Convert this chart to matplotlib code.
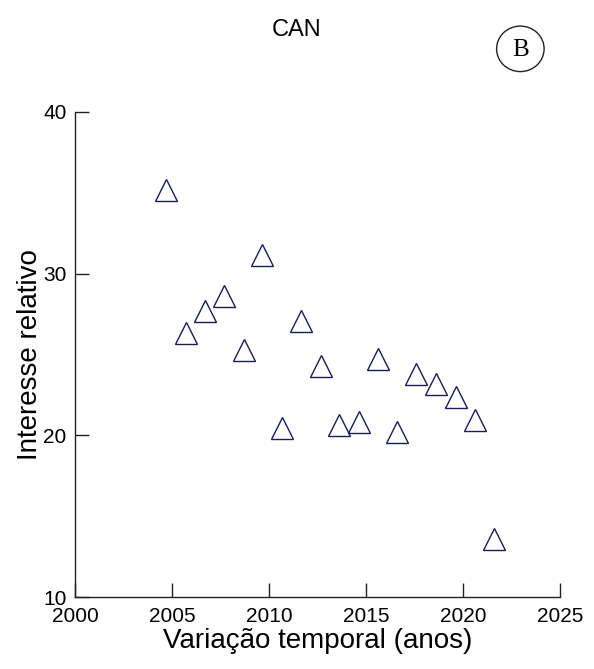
import matplotlib
matplotlib.use("Agg")
import matplotlib.pyplot as plt
from matplotlib.patches import Ellipse

# Yearly relative interest for CAN
years = [2004.7, 2005.7, 2006.7, 2007.7, 2008.7, 2009.65, 2010.67, 2011.64, 2012.67,
         2013.61, 2014.65, 2015.62, 2016.61, 2017.6, 2018.6, 2019.62, 2020.61, 2021.6]
interest = [35.2, 26.3, 27.7, 28.6, 25.3, 31.15, 20.45, 27.1, 24.3,
            20.65, 20.85, 24.7, 20.2, 23.8, 23.2, 22.35, 20.95, 13.6]

x_ticks = [2000, 2005, 2010, 2015, 2020, 2025]
y_ticks = [10, 20, 30, 40]

title_text = "CAN"
panel_label = "B"
x_label = "Variação temporal (anos)"
y_label = "Interesse relativo"

fig = plt.figure(figsize=(5.94, 6.69), dpi=100)
ax = fig.add_axes([0.1263, 0.1076, 0.8165, 0.725])

ax.plot(years, interest, linestyle="none", marker="^", markersize=16,
        markerfacecolor="none", markeredgecolor="#1c1c5a", markeredgewidth=1.0,
        clip_on=False)

ax.set_xlim(2000, 2025)
ax.set_ylim(10, 40)
ax.set_xticks(x_ticks)
ax.set_yticks(y_ticks)

tick_font = dict(family=["Liberation Sans Narrow", "Liberation Sans", "DejaVu Sans"], size=15)
ax.set_xticklabels([str(t) for t in x_ticks], fontdict=tick_font)
ax.set_yticklabels([str(t) for t in y_ticks], fontdict=tick_font)

for side in ("top", "right"):
    ax.spines[side].set_visible(False)
for side in ("left", "bottom"):
    ax.spines[side].set_linewidth(1.0)
    ax.spines[side].set_color("#222222")

ax.tick_params(axis="both", direction="in", length=10, width=1.0, color="#222222")
ax.tick_params(axis="x", pad=7.5)
ax.tick_params(axis="y", pad=6)

label_font = dict(family=["Liberation Sans", "DejaVu Sans"], size=20)
ax.set_xlabel(x_label, fontdict=label_font, labelpad=1)
ax.set_ylabel(y_label, fontdict=label_font, labelpad=0)

fig.text(0.5, 0.955, title_text, ha="center", va="center",
         family=["Liberation Sans", "DejaVu Sans"], fontsize=17)

# Panel letter inside a circle
circ = Ellipse((0.876, 0.927), width=0.080, height=0.068, transform=fig.transFigure,
               fill=False, edgecolor="#222222", linewidth=1.0)
fig.add_artist(circ)
fig.text(0.876, 0.926, panel_label, ha="center", va="center",
         family=["Liberation Serif", "DejaVu Serif"], fontsize=18)

fig.savefig("out.png", dpi=100, facecolor="white")
